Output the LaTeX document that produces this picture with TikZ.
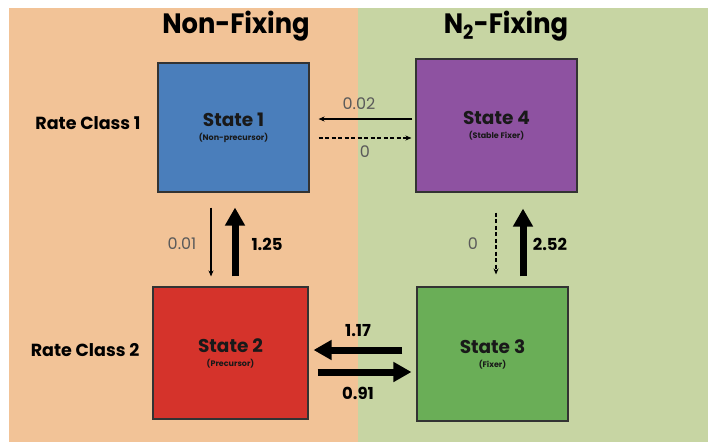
\documentclass[tikz,border=0pt]{standalone}
\usepackage{fontspec}
\setmainfont{Poppins}
\usetikzlibrary{arrows.meta,shadows}

\definecolor{nonfixbg}{HTML}{F2C397}
\definecolor{fixbg}{HTML}{C7D5A3}
\definecolor{boxblue}{HTML}{4A7EBB}
\definecolor{boxpurple}{HTML}{8E52A1}
\definecolor{boxred}{HTML}{D5332B}
\definecolor{boxgreen}{HTML}{6AAE57}
\definecolor{rategray}{HTML}{5A5A5A}

\tikzset{
  statebox/.style={draw=black!80, line width=1.1pt, rectangle, inner sep=0pt,
    align=center, text=black!90,
    drop shadow={shadow xshift=1.2pt, shadow yshift=-1.2pt, opacity=0.35, fill=black}},
  thinarrow/.style={draw=black, line width=1.1pt, -{Stealth[length=6pt,width=5pt]}},
  dasharrow/.style={thinarrow, dashed, dash pattern=on 4pt off 2.5pt},
  thickarrow/.style={draw=black, line width=7pt, -{Triangle[length=18pt,width=19pt]}},
  lightnum/.style={text=rategray, font=\fontsize{16}{18}\selectfont},
  boldnum/.style={text=black, font=\fontsize{16.5}{18}\selectfont\bfseries},
  header/.style={font=\fontsize{28}{30}\selectfont\bfseries, text=black},
  rowlabel/.style={font=\fontsize{17.5}{20}\selectfont\bfseries, text=black},
}

\newcommand{\stitle}[1]{{\fontsize{18.5}{21}\selectfont\bfseries #1}}
\newcommand{\ssub}[1]{{\fontsize{8}{10}\selectfont\bfseries #1}}

\begin{document}
\begin{tikzpicture}[x=1pt,y=-1pt]
  \useasboundingbox (0,0) rectangle (708,442);
  \fill[white] (0,0) rectangle (708,442);

  % the two background panels
  \fill[nonfixbg] (9,8) rectangle (358,442);
  \fill[fixbg] (358,8) rectangle (708,442);

  % column headers
  \node[header] (hnon) at (236,26) {\scalebox{0.92}[1]{Non-Fixing}};
  \node[header] (hfix) at (506,26) {\scalebox{0.92}[1]{N\textsubscript{2}-Fixing}};

  % row labels
  \node[rowlabel] (rc1) at (88,123) {Rate Class 1};
  \node[rowlabel] (rc2) at (85,350) {Rate Class 2};

  % the four states
  \node[statebox, fill=boxblue, minimum width=151pt, minimum height=129pt] (s1) at (233.5,127.5)
    {\stitle{State 1}\\[2pt]\ssub{(Non-precursor)}};
  \node[statebox, fill=boxpurple, minimum width=161pt, minimum height=133pt] (s4) at (496.5,125.5)
    {\stitle{State 4}\\[2pt]\ssub{(Stable Fixer)}};
  \node[statebox, fill=boxred, minimum width=155pt, minimum height=132pt] (s2) at (230.5,353)
    {\stitle{State 2}\\[2pt]\ssub{(Precursor)}};
  \node[statebox, fill=boxgreen, minimum width=151pt, minimum height=134pt] (s3) at (492.5,354)
    {\stitle{State 3}\\[2pt]\ssub{(Fixer)}};

  % reference rows and columns for the connectors
  \coordinate (ytop) at (0,119);
  \coordinate (ybot) at (0,138);
  \coordinate (yleft) at (0,350);
  \coordinate (yright) at (0,372);
  \coordinate (xa) at (211,0);
  \coordinate (xb) at (235,0);
  \coordinate (xc) at (496,0);
  \coordinate (xd) at (523,0);

  % transitions between states
  \draw[thinarrow, shorten <=3pt, shorten >=9pt] (s4.west |- ytop) -- (s1.east |- ytop);
  \draw[dasharrow, shorten <=9pt, shorten >=4pt] (s1.east |- ybot) -- (s4.west |- ybot);
  \draw[thinarrow, shorten <=15pt, shorten >=10pt] (xa |- s1.south) -- (xa |- s2.north);
  \draw[thickarrow, shorten <=10pt, shorten >=15pt] (xb |- s2.north) -- (xb |- s1.south);
  \draw[thickarrow, shorten <=14pt, shorten >=5pt] (s3.west |- yleft) -- (s2.east |- yleft);
  \draw[thickarrow, shorten <=9pt, shorten >=5pt] (s2.east |- yright) -- (s3.west |- yright);
  \draw[dasharrow, shorten <=20pt, shorten >=12pt] (xc |- s4.south) -- (xc |- s3.north);
  \draw[thickarrow, shorten <=10pt, shorten >=16pt] (xd |- s3.north) -- (xd |- s4.south);

  % rates
  \node[lightnum] (r41) at (359,104) {0.02};
  \node[lightnum] (r14) at (365,152) {0};
  \node[lightnum] (r12) at (182,244) {0.01};
  \node[boldnum]  (r21) at (267,244) {1.25};
  \node[boldnum]  (r32) at (358,331) {1.17};
  \node[boldnum]  (r23) at (358,393) {0.91};
  \node[lightnum] (r43) at (473,244) {0};
  \node[boldnum]  (r34) at (550,244) {2.52};
\end{tikzpicture}
\end{document}
